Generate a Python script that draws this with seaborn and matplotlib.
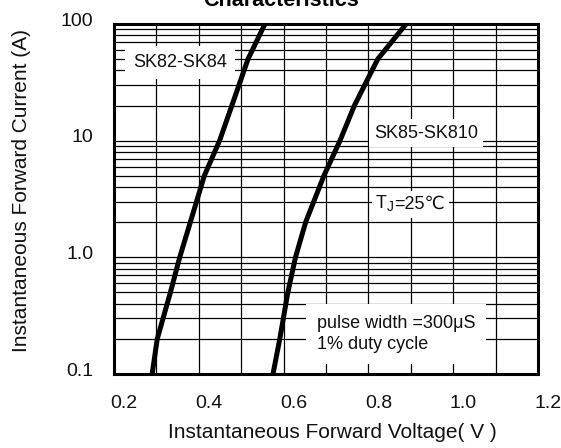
import matplotlib
matplotlib.use("Agg")
import matplotlib.pyplot as plt
import matplotlib.transforms as mtransforms
from matplotlib.patches import Rectangle
from matplotlib.ticker import MultipleLocator, LogLocator, NullFormatter, FixedLocator, FixedFormatter
import seaborn as sns
import pandas as pd

# ---- data ----
current_a = [0.1, 0.2, 0.5, 1, 2, 5, 10, 20, 50, 100]
v_sk82_sk84 = [0.290, 0.302, 0.333, 0.355, 0.380, 0.413, 0.449, 0.478, 0.516, 0.556]
v_sk85_sk810 = [0.575, 0.591, 0.610, 0.628, 0.652, 0.695, 0.733, 0.767, 0.822, 0.889]
series_names = ["SK82-SK84", "SK85-SK810"]
x_ticks = [0.2, 0.4, 0.6, 0.8, 1.0, 1.2]
x_tick_labels = ["0.2", "0.4", "0.6", "0.8", "1.0", "1.2"]
y_ticks = [0.1, 1, 10, 100]
y_tick_labels = ["0.1", "1.0", "10", "100"]

sns.set_theme(style="white")
plt.rcParams['font.family'] = ['Liberation Sans', 'DejaVu Sans']

df = pd.concat([
    pd.DataFrame({"voltage": v_sk82_sk84, "current": current_a, "series": series_names[0]}),
    pd.DataFrame({"voltage": v_sk85_sk810, "current": current_a, "series": series_names[1]}),
])

W, H = 561, 448
fig = plt.figure(figsize=(W / 100, H / 100), dpi=100)
ax = fig.add_axes([114 / W, 1 - 374 / H, (538 - 114) / W, (374 - 24) / H])

sns.lineplot(data=df, x="voltage", y="current", hue="series", units="series",
             estimator=None, palette=["black", "black"], linewidth=3.6,
             legend=False, ax=ax, zorder=5)

ax.set_yscale("log")
ax.set_xlim(0.2, 1.2)
ax.set_ylim(0.1, 100)

ax.xaxis.set_major_locator(FixedLocator(x_ticks))
ax.xaxis.set_major_formatter(FixedFormatter(x_tick_labels))
ax.xaxis.set_minor_locator(MultipleLocator(0.1))
ax.yaxis.set_major_locator(FixedLocator(y_ticks))
ax.yaxis.set_major_formatter(FixedFormatter(y_tick_labels))
ax.yaxis.set_minor_locator(LogLocator(base=10, subs=range(2, 10)))
ax.yaxis.set_minor_formatter(NullFormatter())

ax.grid(which="both", color="black", linewidth=0.9)
ax.set_axisbelow(True)
ax.tick_params(which="both", length=0)
ax.tick_params(axis="x", labelsize=14, pad=15, colors="#111111")
ax.tick_params(axis="y", labelsize=14, pad=15, colors="#111111")
for lab in ax.get_xticklabels():
    lab.set_transform(lab.get_transform() + mtransforms.ScaledTranslation(0.10, 0, fig.dpi_scale_trans))
for lab in ax.get_yticklabels():
    lab.set_transform(lab.get_transform() + mtransforms.ScaledTranslation(0, 0.05, fig.dpi_scale_trans))

for s in ax.spines.values():
    s.set_color("black")
    s.set_linewidth(2.2)
    s.set_zorder(10)

ax.set_xlabel("Instantaneous Forward Voltage( V )", fontsize=15, color="#111111")
ax.set_ylabel("Instantaneous Forward Current (A)", fontsize=15, color="#111111")
ax.xaxis.set_label_coords(332 / W, 1 - 423 / H, transform=fig.transFigure)
ax.yaxis.set_label_coords(31 / W, 1 - 190 / H, transform=fig.transFigure)

fig.text(0.5, 1 - 6 / H, "Characteristics", ha="center", va="baseline",
         fontsize=15.5, fontweight="bold", color="black")

box = lambda p: dict(boxstyle=f"square,pad={p}", facecolor="white", edgecolor="none")
txt = dict(fontsize=13, color="#111111")
ax.text(0.356, 47, series_names[0], ha="center", va="center",
        bbox=box(0.45), zorder=6, **txt)
ax.text(0.936, 11.6, series_names[1], ha="center", va="center",
        bbox=box(0.3), zorder=6, **txt)

# T_J = 25 degC label built from pieces (subscript J)
t1 = ax.text(0.818, 2.87, "T", ha="left", va="center", zorder=7, **txt)
t2 = ax.annotate("J", xy=(1, 0.5), xycoords=t1, xytext=(0, -2.5), textcoords="offset points",
                 ha="left", va="center", fontsize=10, color="#111111", zorder=7)
t3 = ax.annotate("=25\u2103", xy=(1, 0.5), xycoords=t2, xytext=(0, 2.5), textcoords="offset points",
                 ha="left", va="center", zorder=7, **txt)

ax.text(0.679, 0.22, "pulse width =300\u03bcS\n1% duty cycle", ha="left", va="center",
        linespacing=1.3, bbox=box(0.6), zorder=6, **txt)

# white backing behind the composed T_J label (measured from its rendered pieces)
fig.canvas.draw()
renderer = fig.canvas.get_renderer()
bb = mtransforms.Bbox.union([t.get_window_extent(renderer) for t in (t1, t2, t3)])
pad = 4
ax.add_patch(Rectangle((bb.x0 - pad, bb.y0 - pad), bb.width + 2 * pad, bb.height + 2 * pad,
                       transform=mtransforms.IdentityTransform(), facecolor="white",
                       edgecolor="none", zorder=6))

fig.savefig("out.png", dpi=100)
